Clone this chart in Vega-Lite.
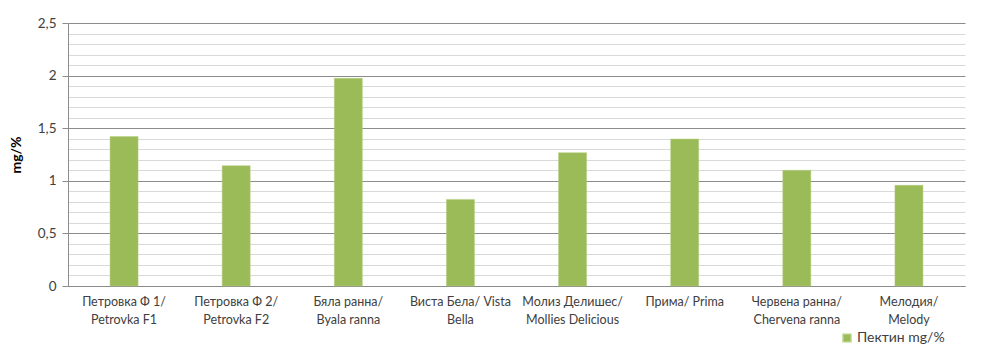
{
  "$schema": "https://vega.github.io/schema/vega-lite/v6.json",
  "width": 897,
  "height": 263,
  "autosize": {"type": "none"},
  "padding": {"left": 68, "top": 23, "right": 43, "bottom": 70},
  "background": "white",
  "config": {
    "view": {"stroke": null},
    "font": "Lato",
    "axis": {"labelFont": "Lato", "titleFont": "Lato", "labelColor": "#404040", "titleColor": "#000000"},
    "legend": {"labelFont": "Lato"}
  },
  "data": {
    "values": [
      {"sort": 1, "variety": "Петровка Ф 1/|Petrovka F1", "series": "Пектин mg/%", "value": 1.42},
      {"sort": 2, "variety": "Петровка Ф 2/|Petrovka F2", "series": "Пектин mg/%", "value": 1.143},
      {"sort": 3, "variety": "Бяла ранна/|Byala ranna", "series": "Пектин mg/%", "value": 1.974},
      {"sort": 4, "variety": "Виста Бела/ Vista|Bella", "series": "Пектин mg/%", "value": 0.823},
      {"sort": 5, "variety": "Молиз Делишес/|Mollies Delicious", "series": "Пектин mg/%", "value": 1.267},
      {"sort": 6, "variety": "Прима/ Prima", "series": "Пектин mg/%", "value": 1.397},
      {"sort": 7, "variety": "Червена ранна/|Chervena ranna", "series": "Пектин mg/%", "value": 1.10},
      {"sort": 8, "variety": "Мелодия/|Melody", "series": "Пектин mg/%", "value": 0.957}
    ]
  },
  "mark": {"type": "bar", "stroke": "#b5cf80", "strokeWidth": 0.5},
  "encoding": {
    "x": {
      "field": "variety",
      "type": "nominal",
      "sort": {"field": "sort"},
      "scale": {"paddingInner": 0.75, "paddingOuter": 0.375},
      "axis": {
        "title": null,
        "labelAngle": 0,
        "labelExpr": "split(datum.label, '|')",
        "labelFontSize": 12.5,
        "labelPadding": 9,
        "labelLineHeight": 18,
        "ticks": false,
        "domainColor": "#8c8c8c",
        "domainWidth": 1,
        "grid": false
      }
    },
    "y": {
      "field": "value",
      "type": "quantitative",
      "scale": {"domain": [0, 2.5], "nice": false},
      "axis": {
        "title": "mg/%",
        "titleFontSize": 14,
        "titleFontWeight": "bold",
        "titlePadding": 14,
        "values": [0, 0.1, 0.2, 0.3, 0.4, 0.5, 0.6, 0.7, 0.8, 0.9, 1, 1.1, 1.2, 1.3, 1.4, 1.5, 1.6, 1.7, 1.8, 1.9, 2, 2.1, 2.2, 2.3, 2.4, 2.5],
        "labelExpr": "abs(datum.value*2 - round(datum.value*2)) < 0.001 ? replace(format(datum.value, '~g'), '.', ',') : ''",
        "labelFontSize": 13.5,
        "labelPadding": 6,
        "tickSize": 6,
        "tickColor": "#8c8c8c",
        "tickOpacity": {"condition": {"test": "abs(datum.value*2 - round(datum.value*2)) < 0.001", "value": 1}, "value": 0},
        "domainColor": "#8c8c8c",
        "gridColor": {"condition": {"test": "abs(datum.value*2 - round(datum.value*2)) < 0.001", "value": "#8c8c8c"}, "value": "#d9d9d9"},
        "gridWidth": 1
      }
    },
    "color": {
      "field": "series",
      "type": "nominal",
      "scale": {"range": ["#9BBB59"]},
      "legend": {
        "title": null,
        "orient": "none",
        "legendX": 772,
        "legendY": 308,
        "symbolType": "square",
        "symbolSize": 60,
        "labelFontSize": 14,
        "labelColor": "#404040",
        "labelOffset": 3
      }
    }
  }
}
